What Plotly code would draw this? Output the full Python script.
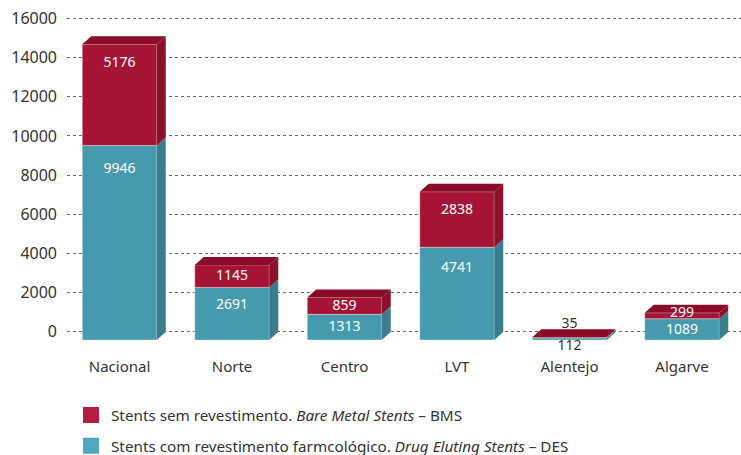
import plotly.graph_objects as go

categories = ["Nacional", "Norte", "Centro", "LVT", "Alentejo", "Algarve"]
des_values = [9946, 2691, 1313, 4741, 112, 1089]
bms_values = [5176, 1145, 859, 2838, 35, 299]
y_ticks = [0, 2000, 4000, 6000, 8000, 10000, 12000, 14000, 16000]
name_bms = "Stents sem revestimento. <i>Bare Metal Stents</i> – BMS"
name_des = "Stents com revestimento farmcológico. <i>Drug Eluting Stents</i> – DES"

W, H = 741, 455
L, R, T, B = 67, 741, 10, 354
PX_Y = 0.01955        # px per value unit
ZERO_PX = 331.4
PITCH = 112.5
CENTER0 = 119.5
UY = 1 / PX_Y
yrange = [(ZERO_PX - B) * UY, (ZERO_PX - T) * UY]
xrange_ = [(L - CENTER0) / PITCH, (R - CENTER0) / PITCH]
BW = 74.5 / PITCH
DX = 9 / PITCH
DY = 8 * UY
BASE = -8.6 * UY

RED, RED_TOP, RED_SIDE = "#a51434", "#8a0b28", "#8c1029"
TEAL, TEAL_TOP, TEAL_SIDE = "#469aae", "#3c8496", "#3a7d8e"
FONT = "Noto Sans"
INK = "#333333"

fig = go.Figure()
xs = list(range(len(categories)))


def poly(px, py, color):
    fig.add_trace(go.Scatter(x=px, y=py, fill="toself", fillcolor=color, mode="lines",
                             line=dict(width=0, color=color), hoverinfo="skip", showlegend=False))


# depth faces derived from the data
for i in xs:
    a, b = i + BW / 2, i + BW / 2 + DX
    l = i - BW / 2
    y0 = BASE
    y1 = y0 + des_values[i]
    y2 = y1 + bms_values[i]
    poly([a, b, b, a, a], [y0, y0 + DY, y1 + DY, y1, y0], TEAL_SIDE)
    poly([a, b, b, a, a], [y1, y1 + DY, y2 + DY, y2, y1], RED_SIDE)
    poly([l, l + DX, b, a, l], [y2, y2 + DY, y2 + DY, y2, y2], RED_TOP)

# front faces
edge = dict(color="rgba(255,255,255,0.35)", width=1)
fig.add_trace(go.Bar(x=xs, y=des_values, base=[BASE] * len(xs), width=BW,
                     marker=dict(color=TEAL, line=edge), showlegend=False, name="DES"))
fig.add_trace(go.Bar(x=xs, y=bms_values, base=[BASE + v for v in des_values], width=BW,
                     marker=dict(color=RED, line=edge), showlegend=False, name="BMS"))

# value labels: distance in px of the label centre below the top of its segment
des_off = [24, 18, 13, 21, 8.5, 12]
bms_off = [19, 11, 9, 19, -13, 1]
des_col = ["white", "white", "white", "white", INK, "white"]
bms_col = ["white", "white", "white", "white", INK, "white"]
tops_des = [BASE + v for v in des_values]
tops_bms = [BASE + d + b for d, b in zip(des_values, bms_values)]
fig.add_trace(go.Scatter(x=xs, y=[t - o * UY for t, o in zip(tops_des, des_off)], mode="text",
                         text=[str(v) for v in des_values], cliponaxis=False,
                         textfont=dict(family=FONT, size=14, color=des_col),
                         textposition="middle center", hoverinfo="skip", showlegend=False))
fig.add_trace(go.Scatter(x=xs, y=[t - o * UY for t, o in zip(tops_bms, bms_off)], mode="text",
                         text=[str(v) for v in bms_values], cliponaxis=False,
                         textfont=dict(family=FONT, size=14, color=bms_col),
                         textposition="middle center", hoverinfo="skip", showlegend=False))

# legend entries
fig.add_trace(go.Scatter(x=[None], y=[None], mode="markers", name=name_bms, legendgroup="a",
                         marker=dict(symbol="square", size=16, color="#b81c40")))
fig.add_trace(go.Scatter(x=[None], y=[None], mode="markers", name=name_des, legendgroup="b",
                         marker=dict(symbol="square", size=16, color="#4baabf")))

fig.update_layout(
    width=W, height=H, autosize=False,
    margin=dict(l=L, r=W - R, t=T, b=H - B, pad=0, autoexpand=False),
    paper_bgcolor="white", plot_bgcolor="white",
    barmode="overlay",
    font=dict(family=FONT, size=15, color=INK),
    xaxis=dict(range=xrange_, tickmode="array", tickvals=xs, ticktext=categories, tickangle=0,
               showgrid=False, zeroline=False, showline=False, ticks="",
               tickfont=dict(size=15, color=INK), ticklabelstandoff=2),
    yaxis=dict(range=yrange, tickmode="array", tickvals=y_ticks, tickformat="d",
               showgrid=True, gridcolor="#666666", gridwidth=1, griddash="3px,3px",
               zeroline=False, showline=False, ticks="",
               tickfont=dict(size=16, color=INK), ticklabelstandoff=9),
    legend=dict(x=71 / W, y=(H - 398.5) / H, xref="container", yref="container",
                xanchor="left", yanchor="top", tracegroupgap=8,
                font=dict(size=15.25, color=INK), bgcolor="rgba(0,0,0,0)"),
    showlegend=True,
)

fig.write_html("out.html", post_script="document.body.style.margin='0';",
               config={"displayModeBar": False})
